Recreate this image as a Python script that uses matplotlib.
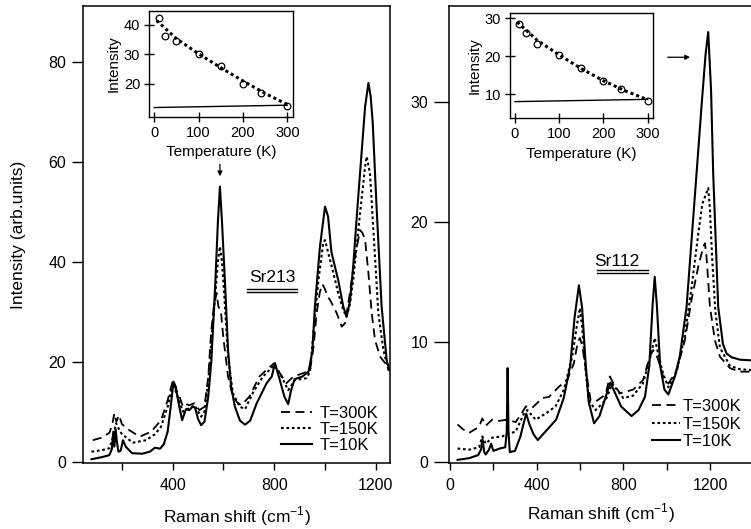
import numpy as np
import matplotlib
matplotlib.use("Agg")
import matplotlib.pyplot as plt
from matplotlib.ticker import FixedLocator

plt.rcParams['font.family'] = ['Liberation Sans', 'DejaVu Sans']

# ---------------- Left panel (Sr213) ----------------
sr213_10K_w = [80, 120, 150, 160, 166, 170, 175, 180, 186, 195, 204, 215, 240, 280, 310, 330, 350, 365, 380, 392,
               403, 412, 422, 437, 452, 465, 478, 488, 500, 512, 525, 540, 552, 560, 568, 578, 586, 594, 606, 618,
               630, 645, 665, 685, 705, 731, 770, 790, 803, 822, 840, 855, 865, 880, 910, 935, 950, 960, 980, 1000,
               1012, 1025, 1039, 1052, 1072, 1085, 1098, 1111, 1125, 1138, 1158, 1171, 1180, 1188, 1203, 1223, 1243, 1253]
sr213_10K_y = [0.5, 0.9, 1.3, 2.5, 6.0, 3.0, 6.5, 4.0, 2.0, 2.2, 4.3, 3.0, 1.7, 1.6, 2.0, 2.8, 2.6, 3.5, 6.0, 11,
               16, 15, 12, 8.3, 10.5, 10.3, 11, 10.8, 8.5, 7.3, 8.0, 13, 20, 28, 36, 48, 55, 48, 35.7, 22.3,
               15, 11, 8.2, 7.4, 8.2, 11.7, 15.7, 17, 19.7, 16.3, 13, 11.5, 14, 16.5, 17, 18, 22, 31, 43, 51,
               49, 42, 39, 36.3, 31, 29, 32, 39, 49, 57.7, 71, 75.7, 73, 67.7, 51, 31, 20.3, 18.3]

sr213_300K_w = [85, 120, 151, 162, 170, 178, 188, 200, 229, 270, 315, 354, 380, 401, 412, 427, 440, 452, 466, 486,
                505, 525, 540, 551, 562, 573, 580, 590, 599, 618, 637, 655, 670, 702, 741, 768, 800, 822, 848, 875,
                914, 941, 955, 967, 980, 990, 1000, 1010, 1020, 1046, 1066, 1079, 1098, 1118, 1138, 1148, 1158, 1171,
                1184, 1197, 1217, 1237, 1250]
sr213_300K_y = [4.3, 4.8, 5.8, 7.5, 9.7, 8, 9.3, 7.5, 6.3, 5, 6, 8.3, 12.3, 16.3, 14.5, 13, 11, 11.5, 11.3, 11.7,
                10.3, 11, 17, 25.7, 31, 33.7, 31, 30, 25, 17, 13, 11.8, 11.3, 13, 17, 18.3, 19.7, 17.7, 15.7, 17,
                17.7, 18.3, 23, 29.7, 34, 35.5, 34.5, 33, 32.3, 29.7, 27, 27.7, 33.7, 41, 46.3, 45.7, 44.3, 37.7,
                29.7, 24.3, 21, 19.7, 18.3]

sr213_150K_w = [80, 120, 151, 165, 177, 190, 200, 243, 295, 330, 354, 380, 401, 412, 427, 440, 455, 470, 486, 500,
                512, 525, 540, 552, 566, 578, 586, 594, 602, 618, 637, 664, 685, 715, 755, 800, 829, 855, 881, 927,
                941, 954, 974, 993, 1000, 1013, 1033, 1052, 1072, 1085, 1098, 1111, 1138, 1158, 1164, 1177, 1193,
                1210, 1230, 1250]
sr213_150K_y = [2.0, 2.3, 2.7, 5, 7.7, 6.3, 5.5, 3.8, 4.3, 5.5, 7, 11, 15.7, 14, 12, 10, 10.5, 10.7, 11.3, 10,
                9, 10, 16, 24, 32.3, 40, 43, 40, 34.3, 21, 13.7, 11, 10.5, 13.7, 17, 19.3, 17, 14.3, 16.3, 16.7,
                18, 25.7, 36.3, 43.7, 44.3, 41.7, 37.7, 33.7, 30.3, 29, 31.5, 36.3, 49.7, 59, 61, 57.7, 44.3,
                29.7, 22.3, 18.3]

# ---------------- Right panel (Sr112) ----------------
sr112_10K_w = [35, 90, 130, 143, 150, 158, 165, 180, 190, 200, 230, 255, 262, 266, 270, 276, 300, 325, 340, 352,
               365, 385, 405, 440, 490, 525, 555, 575, 595, 610, 625, 640, 665, 690, 715, 740, 760, 790, 838, 870,
               900, 920, 935, 945, 955, 970, 990, 1008, 1038, 1061, 1092, 1138, 1161, 1180, 1192, 1205, 1215, 1238,
               1260, 1277, 1300, 1338, 1430]
sr112_10K_y = [0.15, 0.3, 0.55, 1.0, 1.9, 0.8, 0.6, 1.0, 1.5, 0.9, 1.1, 1.2, 2.5, 7.8, 2.5, 0.8, 0.9, 2.1, 3.2, 4.0,
               3.2, 2.3, 1.8, 2.5, 3.5, 5.3, 8, 12, 14.7, 12.8, 8.5, 5, 3.2, 3.8, 5.2, 6.6, 5.8, 4.6, 3.8, 4.3,
               5.4, 8, 13, 15.4, 13, 8, 6, 5.6, 7.1, 8.8, 12.9, 24, 29.6, 34, 35.8, 31, 24, 12.9,
               9.8, 9.0, 8.7, 8.5, 8.4]

sr112_300K_w = [35, 60, 88, 134, 149, 165, 195, 226, 264, 303, 330, 350, 380, 426, 457, 503, 541, 572, 590, 600,
                611, 626, 649, 672, 718, 738, 749, 784, 845, 891, 922, 938, 950, 961, 984, 1008, 1046, 1084, 1115,
                1146, 1169, 1177, 1184, 1200, 1223, 1246, 1292, 1338, 1430]
sr112_300K_y = [3.1, 2.7, 2.4, 2.9, 3.6, 3.0, 3.5, 3.4, 3.5, 3.3, 4.0, 4.6, 4.5, 5.3, 5.4, 6.25, 6.8, 8.2, 10.0, 10.3,
                9.6, 7.8, 5.1, 5.0, 5.6, 7.1, 6.7, 5.7, 6.0, 6.8, 8.75, 9.3, 9.0, 8.5, 7.1, 6.5, 7.6, 10.1, 13.5,
                16.25, 17.9, 18.2, 17.1, 12.9, 10.1, 8.75, 7.8, 7.5, 7.5]

sr112_150K_w = [35, 88, 134, 149, 165, 195, 241, 264, 303, 341, 357, 395, 441, 487, 526, 564, 587, 600, 611, 626,
                641, 672, 718, 749, 800, 845, 890, 922, 945, 961, 984, 1008, 1046, 1084, 1115, 1146, 1165, 1192,
                1200, 1210, 1225, 1246, 1292, 1338, 1430]
sr112_150K_y = [1.1, 1.0, 1.2, 2.1, 1.5, 2.0, 2.1, 2.3, 2.5, 4.0, 4.3, 3.5, 4.0, 4.6, 6.0, 8.75, 11.5, 12.8, 11, 7.6,
                5.1, 4.3, 5.1, 6.5, 5.3, 5.5, 6.5, 8.5, 10.3, 9, 7.3, 6.2, 7.5, 10.5, 14.5, 19, 21.5, 22.8,
                21, 17, 12.5, 9.5, 8.0, 7.7, 7.6]

# ---------------- Insets ----------------
inset_T = [10, 25, 50, 100, 150, 200, 240, 300]
sr213_inset_I = [42.3, 36.4, 34.7, 30.0, 26.2, 20.0, 16.8, 12.6]
sr112_inset_I = [28.4, 26.2, 23.2, 20.3, 16.8, 13.5, 11.2, 8.2]
fit_T = [5, 50, 100, 150, 200, 250, 300]
sr213_fit_I = [41.5, 35.3, 30.2, 25.5, 21.0, 16.8, 13.0]
sr112_fit_I = [29.0, 24.2, 20.3, 16.7, 13.5, 10.8, 8.5]
base_T = [0, 300]
sr213_base_I = [12.0, 12.8]
sr112_base_I = [8.0, 8.6]

legend_labels = ['T=300K', 'T=150K', 'T=10K']

W, H = 751, 529
fig = plt.figure(figsize=(W / 100, H / 100), dpi=100)


def frac(x0, y_top, x1, y_bot):
    return [x0 / W, 1 - y_bot / H, (x1 - x0) / W, (y_bot - y_top) / H]


LW_SPINE = 1.1
TFS = 11.5
LFS = 12.5


def style_main(ax):
    for s in ax.spines.values():
        s.set_linewidth(LW_SPINE)
    ax.tick_params(axis='y', direction='out', length=8, width=1.0, labelsize=TFS, pad=4)
    ax.tick_params(axis='x', which='both', direction='out', length=5, width=1.0, labelsize=TFS, pad=6)


def draw_spectra(ax, w300, y300, w150, y150, w10, y10):
    ax.plot(w300, y300, color='black', ls=(0, (5, 3)), lw=1.3, label=legend_labels[0])
    ax.plot(w150, y150, color='black', ls=(0, (1.3, 1.3)), lw=1.5, label=legend_labels[1])
    ax.plot(w10, y10, color='black', ls='-', lw=1.5, label=legend_labels[2])


# ----- Left main axes -----
axL = fig.add_axes(frac(83, 6, 390, 463))
draw_spectra(axL, sr213_300K_w, sr213_300K_y, sr213_150K_w, sr213_150K_y, sr213_10K_w, sr213_10K_y)
axL.set_xlim(46.5, 1256)
axL.set_ylim(-0.26, 91.1)
axL.set_yticks([0, 20, 40, 60, 80])
axL.set_xticks([400, 800, 1200])
axL.xaxis.set_minor_locator(FixedLocator([200, 600, 1000]))
style_main(axL)
axL.set_xlabel('Raman shift (cm$^{\\mathregular{-1}}$)', fontsize=LFS, labelpad=8)
axL.set_ylabel('Intensity (arb.units)', fontsize=LFS, labelpad=16)
axL.legend(loc='upper left', bbox_to_anchor=(0.645, 0.124), frameon=False, fontsize=12,
           labelspacing=0.05, handlelength=1.85, handletextpad=0.48, borderpad=0, borderaxespad=0)
axL.text(0.616, 0.405, 'Sr213', transform=axL.transAxes, ha='center', va='center', fontsize=12.5)
axL.plot([0.534, 0.697], [0.381, 0.381], transform=axL.transAxes, color='black', lw=1.0)
axL.plot([0.534, 0.697], [0.374, 0.374], transform=axL.transAxes, color='black', lw=1.0)
axL.annotate('', xy=(586, 56.5), xytext=(586, 60.0),
             arrowprops=dict(arrowstyle='-|>', color='black', lw=0.9, mutation_scale=7))

# ----- Right main axes -----
axR = fig.add_axes(frac(449, 6, 760, 463))
draw_spectra(axR, sr112_300K_w, sr112_300K_y, sr112_150K_w, sr112_150K_y, sr112_10K_w, sr112_10K_y)
axR.set_xlim(-4.6, 1431)
axR.set_ylim(-0.11, 37.97)
axR.set_yticks([0, 10, 20, 30])
axR.set_xticks([0, 400, 800, 1200])
axR.xaxis.set_minor_locator(FixedLocator([200, 600, 1000]))
style_main(axR)
axR.tick_params(axis='y', length=11)
axR.spines['right'].set_visible(False)
axR.set_xlabel('Raman shift (cm$^{\\mathregular{-1}}$)', fontsize=LFS, labelpad=8)
axR.xaxis.set_label_coords((601 - 449) / 311, -0.085)
axR.legend(loc='upper left', bbox_to_anchor=(0.652, 0.14), frameon=False, fontsize=12,
           labelspacing=0.15, handlelength=1.7, handletextpad=0.18, borderpad=0, borderaxespad=0)
axR.text(0.540, 0.442, 'Sr112', transform=axR.transAxes, ha='center', va='center', fontsize=12.5)
axR.plot([0.476, 0.640], [0.422, 0.422], transform=axR.transAxes, color='black', lw=1.0)
axR.plot([0.476, 0.640], [0.415, 0.415], transform=axR.transAxes, color='black', lw=1.0)
axR.annotate('', xy=(1121, 33.7), xytext=(992, 33.7),
             arrowprops=dict(arrowstyle='-|>', color='black', lw=0.9, mutation_scale=7))


def style_inset(ax):
    for s in ax.spines.values():
        s.set_linewidth(1.0)
    ax.tick_params(direction='inout', length=7, width=1.0, labelsize=10.5, pad=3)
    ax.set_xlabel('Temperature (K)', fontsize=11, labelpad=4)
    ax.set_ylabel('Intensity', fontsize=11, labelpad=2)
    ax.set_xticks([0, 100, 200, 300])


# ----- Left inset -----
inL = fig.add_axes(frac(149.3, 10.7, 293.3, 116.7))
inL.plot(fit_T, sr213_fit_I, color='black', ls=(0, (1, 1)), lw=2.2)
inL.plot(base_T, sr213_base_I, color='black', lw=1.0)
inL.plot(inset_T, sr213_inset_I, ls='none', marker='o', mfc='none', mec='black', ms=4.8, mew=0.9)
inL.set_xlim(-11.3, 313.5)
inL.set_ylim(8.9, 44.8)
inL.set_yticks([20, 30, 40])
style_inset(inL)

# ----- Right inset -----
inR = fig.add_axes(frac(510, 13.3, 653.3, 118.3))
inR.plot(fit_T, sr112_fit_I, color='black', ls=(0, (1, 1)), lw=2.2)
inR.plot(base_T, sr112_base_I, color='black', lw=1.0)
inR.plot(inset_T, sr112_inset_I, ls='none', marker='o', mfc='none', mec='black', ms=4.8, mew=0.9)
inR.set_xlim(-11.3, 312.7)
inR.set_ylim(3.6, 31.3)
inR.set_yticks([10, 20, 30])
style_inset(inR)

fig.savefig('out.png', dpi=100)
